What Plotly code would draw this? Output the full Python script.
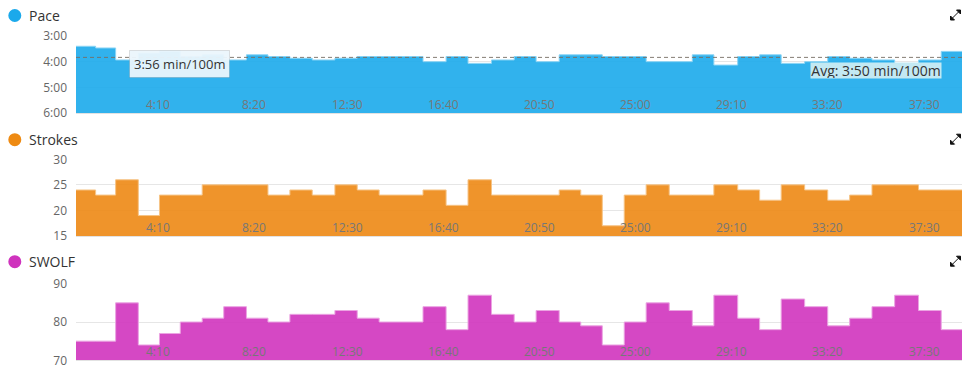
import numpy as np
import plotly.graph_objects as go

# ---- data (one entry per 25 m length) ----
length_secs = [51, 52, 59, 55, 54, 57, 56, 59, 56, 57,
               58, 59, 58, 57, 57, 57, 60, 57, 61, 59,
               57, 60, 56, 56, 57, 57, 60, 60, 56, 62,
               57, 56, 61, 60, 57, 58, 59, 62, 59, 54]
pace_s_per_100m = [204, 208, 236, 220, 216, 228, 224, 236, 224, 228,
                   232, 236, 232, 228, 228, 228, 240, 228, 244, 236,
                   228, 240, 224, 224, 228, 228, 240, 240, 224, 248,
                   228, 224, 244, 240, 228, 232, 236, 248, 236, 216]
strokes = [24, 23, 26, 19, 23, 23, 25, 25, 25, 23,
           24, 23, 25, 24, 23, 23, 24, 21, 26, 23,
           23, 23, 24, 23, 17, 23, 25, 23, 23, 25,
           24, 22, 25, 24, 22, 23, 25, 25, 24, 24]
swolf = [75, 75, 85, 74, 77, 80, 81, 84, 81, 80,
         82, 82, 83, 81, 80, 80, 84, 78, 87, 82,
         80, 83, 80, 79, 74, 80, 85, 83, 79, 87,
         81, 78, 86, 84, 79, 81, 84, 87, 83, 78]
avg_pace = 230  # 3:50 min/100m
x_tick_vals = [250, 500, 750, 1000, 1250, 1500, 1750, 2000, 2250]
x_tick_text = ["4:10", "8:20", "12:30", "16:40", "20:50", "25:00", "29:10", "33:20", "37:30"]
pace_tick_vals = [180, 240, 300, 360]
pace_tick_text = ["3:00", "4:00", "5:00", "6:00"]
strokes_tick_vals = [15, 20, 25, 30]
swolf_tick_vals = [70, 80, 90]
tooltip_text = "3:56 min/100m"
avg_text = "Avg: 3:50 min/100m"

# ---- geometry helpers ----
W, H = 971, 371
L, R = 76, 962
def px(x):
    return (x - L) / (R - L)
def py(y):
    return 1 - y / H

starts = np.concatenate([[0], np.cumsum(length_secs)])
total = float(starts[-1])
xs = list(starts)

BLUE = "rgba(27,170,235,0.90)"
ORANGE = "rgba(237,136,20,0.90)"
MAGENTA = "rgba(208,52,190,0.90)"
FONT = "Open Sans"

fig = go.Figure()

# Pace (baseline + fill)
fig.add_trace(go.Scatter(x=[0, total], y=[360, 360], mode="lines",
                         line=dict(width=0), xaxis="x", yaxis="y",
                         hoverinfo="skip", showlegend=False))
fig.add_trace(go.Scatter(x=xs, y=pace_s_per_100m + [pace_s_per_100m[-1]],
                         mode="lines", line_shape="hv",
                         line=dict(color="#8ad4f5", width=1),
                         fill="tonexty", fillcolor=BLUE,
                         xaxis="x", yaxis="y", showlegend=False))
fig.add_trace(go.Scatter(x=[0, total], y=[avg_pace, avg_pace], mode="lines",
                         line=dict(color="rgba(120,110,100,0.9)", width=1, dash="4px,3px"),
                         xaxis="x", yaxis="y", showlegend=False, hoverinfo="skip"))

# Strokes
fig.add_trace(go.Scatter(x=xs, y=strokes + [strokes[-1]], mode="lines", line_shape="hv",
                         line=dict(color="#f6c487", width=1),
                         fill="tozeroy", fillcolor=ORANGE,
                         xaxis="x2", yaxis="y2", showlegend=False))
# SWOLF
fig.add_trace(go.Scatter(x=xs, y=swolf + [swolf[-1]], mode="lines", line_shape="hv",
                         line=dict(color="#eba4e2", width=1),
                         fill="tozeroy", fillcolor=MAGENTA,
                         xaxis="x3", yaxis="y3", showlegend=False))

xcommon = dict(range=[0, total], tickvals=x_tick_vals, showticklabels=False,
               showgrid=False, zeroline=False,
               showline=True, linecolor="#e2e2e2", linewidth=1, ticks="",
               fixedrange=True)
ycommon = dict(showgrid=True, gridcolor="#e6e6e6", gridwidth=1, zeroline=False,
               ticks="", ticklabelstandoff=8,
               tickfont=dict(family=FONT, size=12, color="#666666"), fixedrange=True)

bottoms = [113, 236, 360.3]
tops = [36, 159.3, 283.7]

fig.update_layout(
    width=W, height=H,
    margin=dict(l=L, r=W - R, t=0, b=0, autoexpand=False),
    paper_bgcolor="white", plot_bgcolor="white",
    xaxis=dict(anchor="y", domain=[0, 1], **xcommon),
    xaxis2=dict(anchor="y2", domain=[0, 1], **xcommon),
    xaxis3=dict(anchor="y3", domain=[0, 1], **xcommon),
    yaxis=dict(anchor="x", domain=[py(bottoms[0]), py(tops[0])], range=[360, 180],
               tickvals=pace_tick_vals, ticktext=pace_tick_text, **ycommon),
    yaxis2=dict(anchor="x2", domain=[py(bottoms[1]), py(tops[1])], range=[15, 30],
                tickvals=strokes_tick_vals, **ycommon),
    yaxis3=dict(anchor="x3", domain=[py(bottoms[2]), py(tops[2])], range=[70, 90],
                tickvals=swolf_tick_vals, **ycommon),
    showlegend=False,
)

shapes = []
annotations = []

# x tick labels (right-aligned at each tick, inside each panel)
for xref, bot in zip(["x", "x2", "x3"], bottoms):
    for v, t in zip(x_tick_vals, x_tick_text):
        annotations.append(dict(text=t, xref=xref, yref="paper", x=v, y=py(bot - 8.5),
                                xanchor="right", yanchor="middle", showarrow=False,
                                font=dict(family=FONT, size=12, color="#777777")))

# Panel titles with coloured dots and expand icons
titles = [("Pace", 15.5, "#1ba9eb"), ("Strokes", 139.7, "#ee8a12"), ("SWOLF", 261.7, "#cf33bd")]
for name, yc, col in titles:
    shapes.append(dict(type="circle", xref="paper", yref="paper",
                       xsizemode="pixel", ysizemode="pixel",
                       xanchor=px(14.8), yanchor=py(yc),
                       x0=-6.5, x1=6.5, y0=-6.5, y1=6.5,
                       fillcolor=col, line=dict(width=0)))
    annotations.append(dict(text=name, xref="paper", yref="paper",
                            x=px(27), y=py(yc), xanchor="left", yanchor="middle",
                            showarrow=False, font=dict(family=FONT, size=14, color="#333333")))
    # expand icon: two small corner triangles joined by a diagonal
    shapes.append(dict(type="path", xref="paper", yref="paper",
                       xsizemode="pixel", ysizemode="pixel",
                       xanchor=px(955.5), yanchor=py(yc - 0.5),
                       path="M 5 5 L 1 5 L 5 1 Z",
                       fillcolor="#111111", line=dict(color="#111111", width=1)))
    shapes.append(dict(type="path", xref="paper", yref="paper",
                       xsizemode="pixel", ysizemode="pixel",
                       xanchor=px(955.5), yanchor=py(yc - 0.5),
                       path="M -5 -5 L -1 -5 L -5 -1 Z",
                       fillcolor="#111111", line=dict(color="#111111", width=1)))
    shapes.append(dict(type="line", xref="paper", yref="paper",
                       xsizemode="pixel", ysizemode="pixel",
                       xanchor=px(955.5), yanchor=py(yc - 0.5),
                       x0=-3, y0=-3, x1=3, y1=3,
                       line=dict(color="#111111", width=1)))

# Tooltip and average label
annotations.append(dict(text=tooltip_text, xref="paper", yref="paper",
                        x=px(179.5), y=py(64.5), xanchor="center", yanchor="middle",
                        showarrow=False, font=dict(family=FONT, size=13, color="#333333"),
                        bgcolor="rgba(235,246,252,0.95)", bordercolor="rgba(0,0,0,0.12)",
                        borderwidth=1, borderpad=4))
annotations.append(dict(text=avg_text, xref="paper", yref="paper",
                        x=px(942), y=py(70.8), xanchor="right", yanchor="middle",
                        width=130, height=15, align="center",
                        showarrow=False, font=dict(family=FONT, size=14, color="#333333"),
                        bgcolor="#c3e9f3", borderpad=0))

fig.update_layout(shapes=shapes, annotations=annotations)
fig.write_html("out.html", config={"displayModeBar": False},
               post_script="document.body.style.margin='0';document.body.style.overflow='hidden';")
